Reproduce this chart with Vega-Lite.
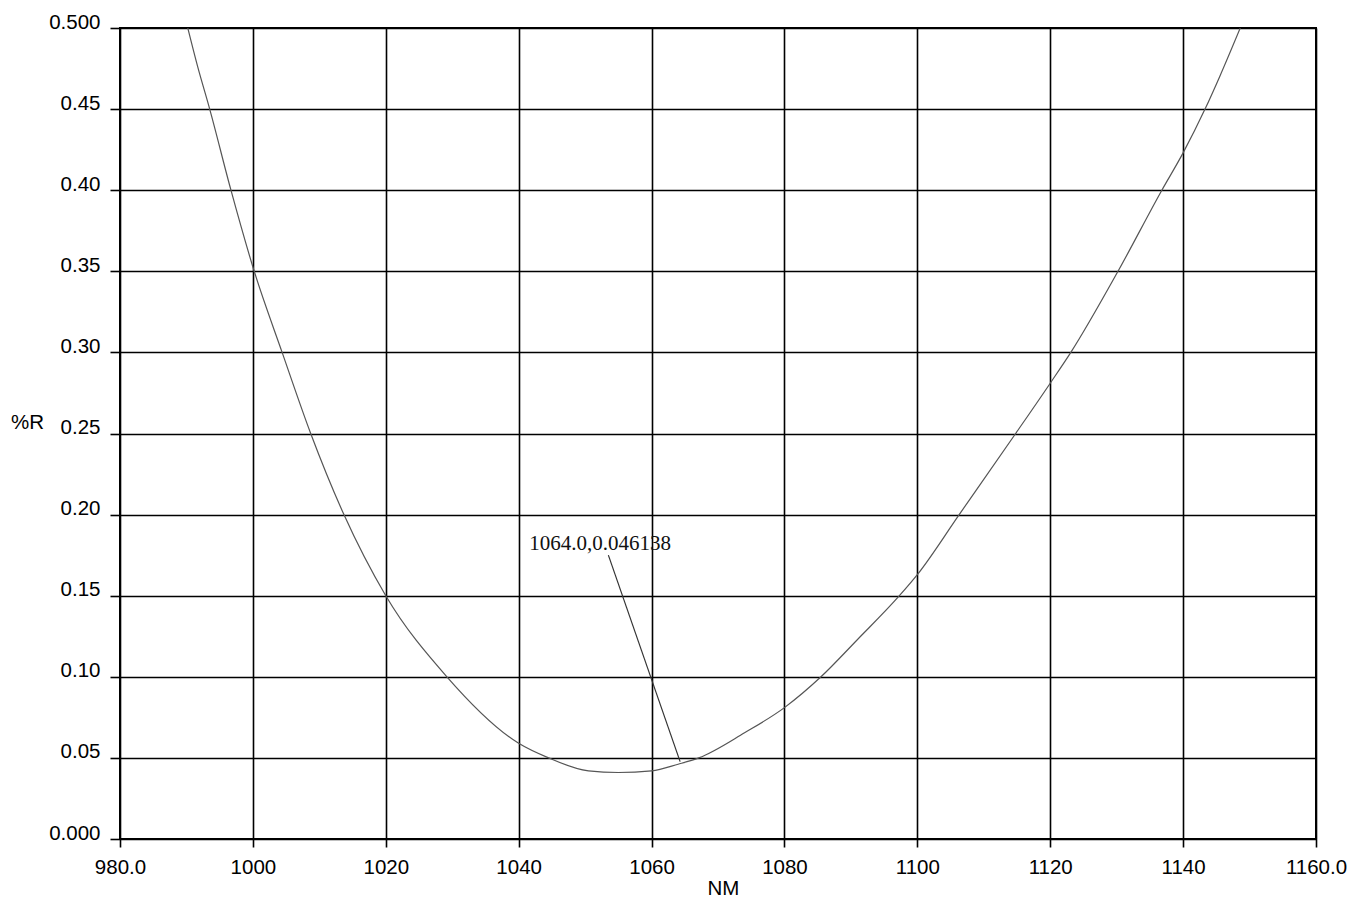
{
  "$schema": "https://vega.github.io/schema/vega-lite/v6.json",
  "autosize": "none",
  "width": 1196,
  "height": 811,
  "padding": {"left": 120, "top": 28, "right": 39, "bottom": 59},
  "background": "white",
  "config": {
    "view": {"stroke": "black", "strokeWidth": 2},
    "axis": {
      "labelFont": "Liberation Sans",
      "labelFontSize": 20.5,
      "labelColor": "black",
      "titleFont": "Liberation Sans",
      "titleFontSize": 20.5,
      "titleFontWeight": "normal",
      "titleColor": "black",
      "grid": true,
      "gridColor": "black",
      "gridWidth": 1.6,
      "gridOpacity": 1,
      "tickColor": "black",
      "tickWidth": 1.6,
      "domain": false
    }
  },
  "datasets": {
    "curve": [
      {"nm": 990.2, "r": 0.500},
      {"nm": 991.7, "r": 0.476},
      {"nm": 993.5, "r": 0.450},
      {"nm": 996.7, "r": 0.400},
      {"nm": 1000.2, "r": 0.350},
      {"nm": 1004.4, "r": 0.300},
      {"nm": 1008.7, "r": 0.250},
      {"nm": 1013.7, "r": 0.200},
      {"nm": 1020.0, "r": 0.150},
      {"nm": 1029.2, "r": 0.100},
      {"nm": 1040.0, "r": 0.059},
      {"nm": 1044.5, "r": 0.050},
      {"nm": 1050.5, "r": 0.042},
      {"nm": 1055.0, "r": 0.041},
      {"nm": 1060.0, "r": 0.042},
      {"nm": 1064.0, "r": 0.0461},
      {"nm": 1067.1, "r": 0.050},
      {"nm": 1074.0, "r": 0.0655},
      {"nm": 1080.0, "r": 0.081},
      {"nm": 1085.5, "r": 0.100},
      {"nm": 1091.0, "r": 0.123},
      {"nm": 1097.3, "r": 0.150},
      {"nm": 1100.0, "r": 0.163},
      {"nm": 1106.3, "r": 0.200},
      {"nm": 1114.8, "r": 0.250},
      {"nm": 1120.0, "r": 0.281},
      {"nm": 1123.1, "r": 0.300},
      {"nm": 1130.2, "r": 0.350},
      {"nm": 1136.8, "r": 0.400},
      {"nm": 1140.0, "r": 0.423},
      {"nm": 1143.3, "r": 0.450},
      {"nm": 1145.5, "r": 0.470},
      {"nm": 1148.6, "r": 0.500}
    ],
    "annotation": [
      {"nm": 1041.6, "r": 0.178, "label": "1064.0,0.046138", "nm_from": 1053.5, "r_from": 0.175, "nm_to": 1064.3, "r_to": 0.0477}
    ]
  },
  "layer": [
    {
      "data": {"name": "curve"},
      "mark": {"type": "line", "color": "#555555", "strokeWidth": 1.2, "interpolate": "monotone", "clip": true},
      "encoding": {
        "x": {
          "field": "nm", "type": "quantitative",
          "scale": {"domain": [980, 1160], "nice": false, "zero": false},
          "axis": {
            "title": "NM",
            "values": [980, 1000, 1020, 1040, 1060, 1080, 1100, 1120, 1140, 1160],
            "labelExpr": "datum.value == 980 ? '980.0' : datum.value == 1160 ? '1160.0' : format(datum.value, 'd')",
            "tickSize": 8,
            "labelPadding": 10,
            "labelFlush": false,
            "titleX": 603,
            "titleY": 55,
            "titleAlign": "center",
            "titleBaseline": "alphabetic"
          }
        },
        "y": {
          "field": "r", "type": "quantitative",
          "scale": {"domain": [0, 0.5], "nice": false},
          "axis": {
            "title": "%R",
            "values": [0, 0.05, 0.1, 0.15, 0.2, 0.25, 0.3, 0.35, 0.4, 0.45, 0.5],
            "labelExpr": "datum.value == 0 ? '0.000' : datum.value == 0.5 ? '0.500' : format(datum.value, '.2f')",
            "tickSize": 10,
            "labelPadding": 10,
            "labelBaseline": "alphabetic",
            "labelFlush": false,
            "titleAngle": 0,
            "titleX": -93,
            "titleY": 400,
            "titleAlign": "center",
            "titleBaseline": "alphabetic"
          }
        }
      }
    },
    {
      "data": {"name": "annotation"},
      "mark": {"type": "rule", "color": "#333333", "strokeWidth": 1.2},
      "encoding": {
        "x": {"field": "nm_from", "type": "quantitative"},
        "y": {"field": "r_from", "type": "quantitative"},
        "x2": {"field": "nm_to"},
        "y2": {"field": "r_to"}
      }
    },
    {
      "data": {"name": "annotation"},
      "mark": {"type": "text", "font": "Liberation Serif", "fontSize": 21, "color": "#111111", "align": "left", "baseline": "alphabetic"},
      "encoding": {
        "x": {"field": "nm", "type": "quantitative"},
        "y": {"field": "r", "type": "quantitative"},
        "text": {"field": "label"}
      }
    }
  ]
}
